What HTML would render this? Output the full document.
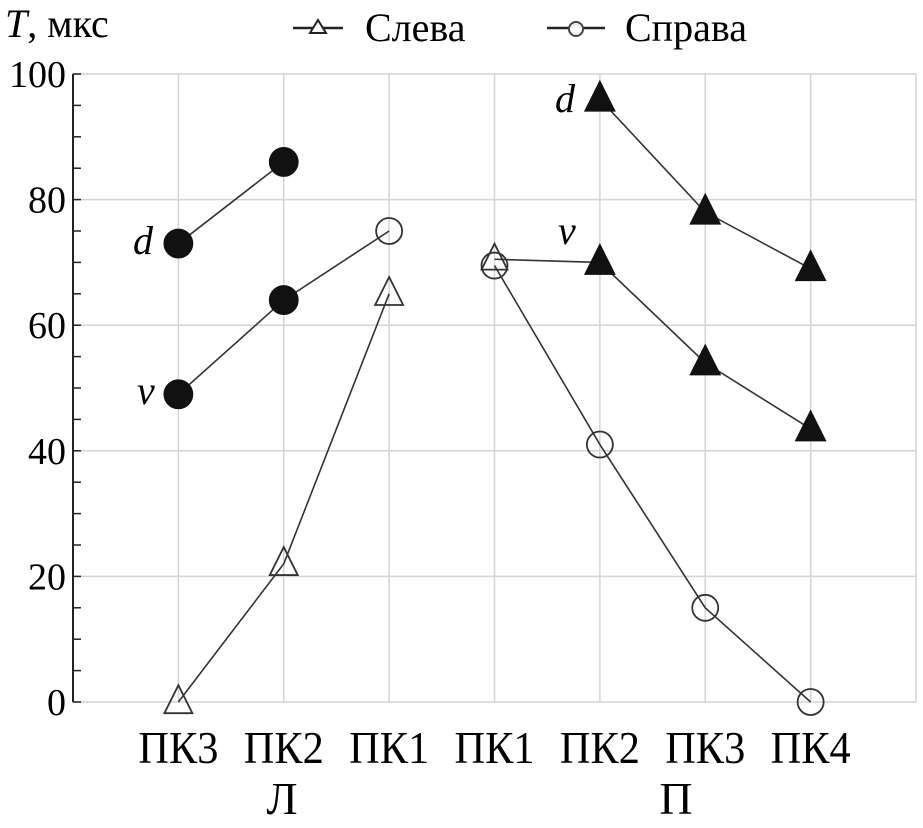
<!DOCTYPE html>
<html><head><meta charset="utf-8">
<style>
html,body{margin:0;padding:0;background:#fff;}
svg{display:block;font-family:"Liberation Serif","DejaVu Serif",serif;}
</style></head>
<body>
<svg id="chart" width="923" height="828" viewBox="0 0 923 828">
  <g id="grid"></g>
  <g id="axes"></g>
  <g id="lines"></g>
  <g id="marks"></g>
  <text x="5" y="37" font-size="40"><tspan font-style="italic">T</tspan>, мкс</text>
  <g>
    <g>
      <line x1="293" y1="28" x2="343" y2="28" stroke="#222" stroke-width="2.5"/>
      <polygon points="318,20 326,33 310,33" fill="#fff" stroke="#222" stroke-width="2"/>
      <text x="365" y="41" font-size="40">Слева</text>
    </g>
    <g>
      <line x1="547" y1="28" x2="605" y2="28" stroke="#222" stroke-width="2.5"/>
      <circle cx="576" cy="29" r="7" fill="#fff" stroke="#444" stroke-width="2"/>
      <text x="625" y="41" font-size="40">Справа</text>
    </g>
  </g>
  <text x="282" y="814" font-size="46" text-anchor="middle">Л</text>
  <text x="676" y="814" font-size="46" text-anchor="middle">П</text>
</svg>
<script>
const categories = ["ПК3","ПК2","ПК1","ПК1","ПК2","ПК3","ПК4"];
const yTicks = [0,20,40,60,80,100];
// series: [categoryIndex, value]
const leftD = [[0,73],[1,86]];
const leftV = [[0,49],[1,64]];
const leftVEnd = [[2,75]];
const leftOpenTri = [[0,0],[1,22],[2,65]];
const rightOpenCirc = [[3,69.5],[4,41],[5,15],[6,0]];
const rightVStart = [[3,70.5]];
const rightV = [[4,70],[5,54],[6,43.5]];
const rightD = [[4,96],[5,78],[6,69]];

const NS="http://www.w3.org/2000/svg";
const X0=73, X1=916, Y0=702, Y1=74;
const xs = i => X0 + (X1-X0)/8*(i+1);
const ys = v => Y0 - (Y0-Y1)*v/100;
function mk(tag,attrs,parent){const e=document.createElementNS(NS,tag);for(const k in attrs)e.setAttribute(k,attrs[k]);parent.appendChild(e);return e;}
const grid=document.getElementById('grid'), axes=document.getElementById('axes'), lines=document.getElementById('lines'), marks=document.getElementById('marks');

categories.forEach((c,i)=>{
  const l=mk('line',{x1:xs(i),y1:Y1,x2:xs(i),y2:Y0,stroke:'#d4d4d4','stroke-width':1.5},grid);
  
  
  const t=mk('text',{x:xs(i),y:763,'font-size':46,'text-anchor':'middle',textLength:80,lengthAdjust:'spacingAndGlyphs'},axes);
  t.textContent=c;
  
  
});
const rb=mk('line',{x1:X1,y1:Y1,x2:X1,y2:Y0,stroke:'#d4d4d4','stroke-width':1.5},grid);


yTicks.forEach(v=>{
  const l=mk('line',{x1:X0,y1:ys(v),x2:X1,y2:ys(v),stroke:'#d4d4d4','stroke-width':1.5},grid);
  
  
  const t=mk('text',{x:66,y:ys(v)+13,'font-size':38,'text-anchor':'end'},axes);
  t.textContent=v;
  
  
});
for(let v=0;v<=100;v+=5){
  const tk=mk('line',{x1:X0,y1:ys(v),x2:X0+8,y2:ys(v),stroke:'#222','stroke-width':1.5},axes);
  
  
}
const ya=mk('line',{x1:X0,y1:Y1,x2:X0,y2:Y0,stroke:'#222','stroke-width':2},axes);



function poly(pts,name){
  const p=mk('polyline',{points:pts.map(([i,v])=>xs(i)+','+ys(v)).join(' '),fill:'none',stroke:'#333','stroke-width':1.6},lines);
  
  
}
poly(leftD,'line-left-d');
poly(leftV.concat(leftVEnd),'line-left-v');
poly(leftOpenTri,'line-left-sleva');
poly(rightOpenCirc,'line-right-sprava');
poly(rightVStart.concat(rightV),'line-right-v');
poly(rightD,'line-right-d');

function circ(pts,filled,r,name){
  pts.forEach(([i,v])=>{
    const c=mk('circle',{cx:xs(i),cy:ys(v),r:r,fill:filled?'#111':'none',stroke:filled?'#111':'#333','stroke-width':1.8},marks);
    
    
  });
}
function tri(pts,filled,s,name){
  pts.forEach(([i,v])=>{
    const x=xs(i),y=ys(v);
    const p=mk('polygon',{points:`${x},${y-s*0.6} ${x+s/2},${y+s*0.4} ${x-s/2},${y+s*0.4}`,fill:filled?'#111':'none',stroke:filled?'#111':'#333','stroke-width':1.8},marks);
    
    
  });
}
circ(leftD,true,14,'point-left-d');
circ(leftV,true,14,'point-left-v');
circ(leftVEnd,false,13,'point-sprava');
circ(rightOpenCirc,false,13,'point-sprava');
tri(leftOpenTri,false,28,'point-sleva');
tri(rightVStart,false,26,'point-sleva');
tri(rightV,true,29,'point-right-v');
tri(rightD,true,29,'point-right-d');

function lbl(txt,x,y,name){
  const t=mk('text',{x:x,y:y,'font-size':40,'font-style':'italic'},axes);
  t.textContent=txt;
  
  
}
lbl('d',133,254,'label-left-d');
lbl('v',137,404,'label-left-v');
lbl('d',555,112,'label-right-d');
lbl('v',558,244,'label-right-v');
</script>
</body></html>
